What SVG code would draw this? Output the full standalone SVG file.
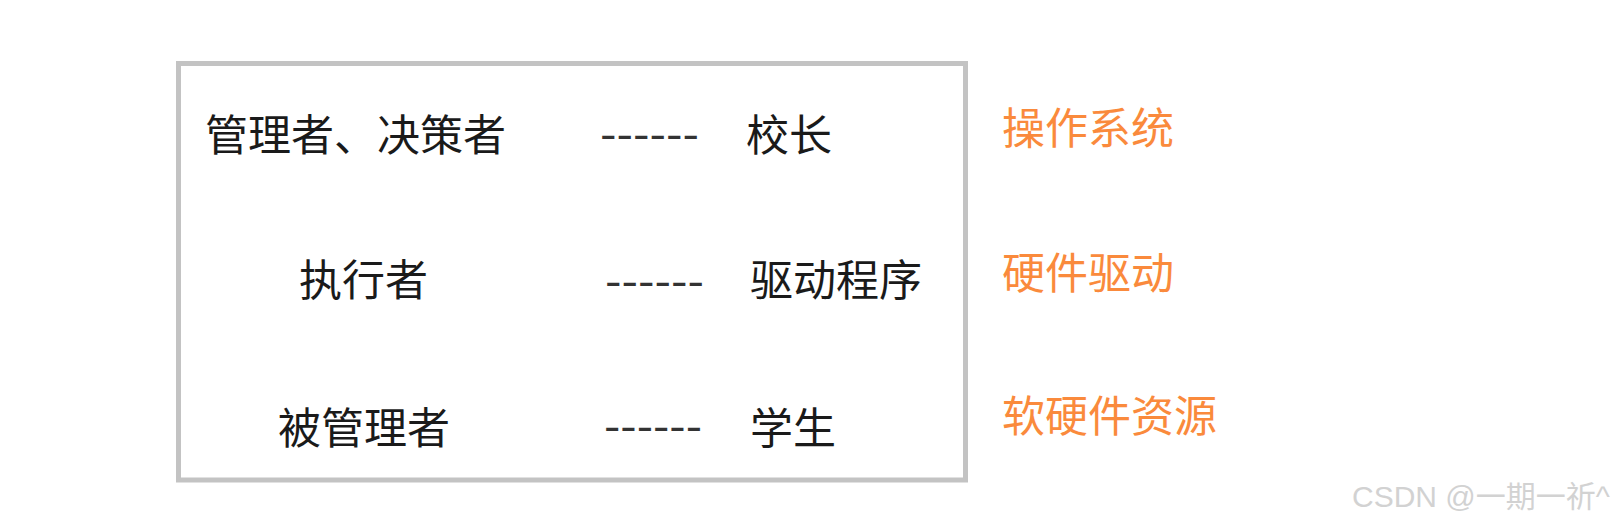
<svg xmlns="http://www.w3.org/2000/svg" width="1619" height="527" viewBox="0 0 1619 527">
<style>
.t{font-family:"Noto Sans CJK SC","Liberation Sans",sans-serif;font-size:43px;fill:#1a1a1a}
.o{font-family:"Noto Sans CJK SC","Liberation Sans",sans-serif;font-size:43px;fill:#fa8a3c}
.d{font-family:"Liberation Sans",sans-serif;font-size:40px;fill:#333}
.w{font-family:"Liberation Sans","Noto Sans CJK SC",sans-serif;font-size:30px;fill:#d2d2d2}
</style>
<rect width="1619" height="527" fill="#fff"/>
<g id="frame"><rect x="178.5" y="63.5" width="787" height="416.5" fill="none" stroke="#c3c3c3" stroke-width="5"/></g>
<g id="row1">
<text class="t" x="205" y="151">管理者、决策者</text>
<text class="d" x="600" y="148" textLength="99" lengthAdjust="spacingAndGlyphs">------</text>
<text class="t" x="746" y="151">校长</text>
</g>
<g id="row2">
<text class="t" x="299" y="296">执行者</text>
<text class="d" x="605" y="295" textLength="99" lengthAdjust="spacingAndGlyphs">------</text>
<text class="t" x="750" y="296">驱动程序</text>
</g>
<g id="row3">
<text class="t" x="278" y="444">被管理者</text>
<text class="d" x="604" y="440" textLength="98" lengthAdjust="spacingAndGlyphs">------</text>
<text class="t" x="750" y="444">学生</text>
</g>
<g id="labels">
<text class="o" x="1002" y="144">操作系统</text>
<text class="o" x="1002" y="289">硬件驱动</text>
<text class="o" x="1002" y="432">软硬件资源</text>
</g>
<g id="connectors"></g>
<text class="w" x="1352" y="507">CSDN @一期一祈^</text>
</svg>
